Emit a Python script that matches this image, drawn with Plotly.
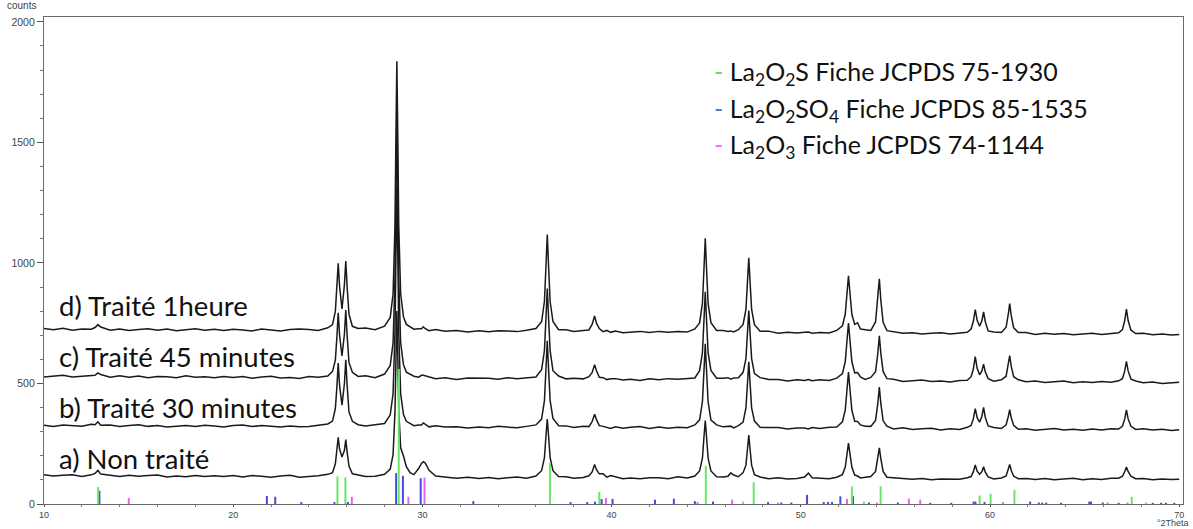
import plotly.graph_objects as go

# ---------------- data ----------------
two_theta = [
    10.0, 10.5, 11.0, 11.5, 12.0, 12.5, 12.7, 12.85, 13.0, 13.5,
    14.0, 14.5, 15.0, 15.5, 16.0, 16.5, 17.0, 17.5, 18.0, 18.5,
    19.0, 19.5, 20.0, 20.5, 21.0, 21.5, 22.0, 22.5, 23.0, 23.5,
    24.0, 24.5, 25.0, 25.25, 25.4, 25.48, 25.55, 25.62, 25.75, 25.88,
    25.95, 26.02, 26.12, 26.3, 26.6, 27.0, 27.5, 28.0, 28.3, 28.45,
    28.55, 28.6, 28.65, 28.7, 28.75, 28.85, 29.0, 29.15, 29.35, 29.55,
    29.8, 29.95, 30.05, 30.15, 30.35, 30.7, 31.2, 31.8, 32.4, 33.0,
    33.5, 34.0, 34.5, 35.0, 35.5, 36.0, 36.3, 36.45, 36.53, 36.6,
    36.67, 36.75, 36.9, 37.2, 37.6, 38.0, 38.5, 38.8, 38.97, 39.1,
    39.2, 39.35, 39.55, 39.75, 39.95, 40.2, 40.6, 41.0, 41.5, 42.0,
    42.5, 43.0, 43.5, 44.0, 44.4, 44.65, 44.8, 44.88, 44.95, 45.02,
    45.1, 45.25, 45.55, 45.9, 46.15, 46.3, 46.45, 46.7, 46.95, 47.1,
    47.18, 47.25, 47.32, 47.4, 47.55, 47.85, 48.3, 48.8, 49.3, 49.8,
    50.2, 50.4, 50.6, 51.0, 51.5, 51.9, 52.2, 52.35, 52.44, 52.52,
    52.6, 52.7, 52.85, 53.0, 53.15, 53.4, 53.7, 53.95, 54.07, 54.15,
    54.23, 54.35, 54.55, 54.9, 55.4, 55.9, 56.4, 56.9, 57.4, 57.9,
    58.4, 58.8, 59.0, 59.12, 59.22, 59.32, 59.45, 59.57, 59.66, 59.75,
    59.9, 60.2, 60.6, 60.85, 60.97, 61.04, 61.12, 61.25, 61.5, 61.9,
    62.4, 62.9, 63.4, 63.9, 64.4, 64.9, 65.4, 65.9, 66.4, 66.8,
    67.0, 67.12, 67.21, 67.3, 67.45, 67.7, 68.1, 68.6, 69.1, 69.6,
    70.0,
]

counts_a = [
    121, 116, 119, 121, 114, 121, 127, 139, 124, 120,
    114, 119, 115, 118, 120, 112, 116, 113, 118, 114,
    117, 114, 118, 112, 118, 115, 111, 116, 119, 111,
    113, 117, 123, 130, 167, 223, 277, 229, 195, 223,
    267, 217, 157, 125, 119, 114, 115, 123, 145, 205,
    381, 608, 800, 612, 390, 233, 199, 155, 130, 122,
    147, 168, 175, 170, 140, 116, 111, 107, 111, 106,
    110, 105, 109, 112, 107, 116, 138, 192, 281, 352,
    281, 192, 138, 114, 113, 107, 110, 117, 133, 164,
    142, 125, 125, 111, 118, 113, 105, 108, 105, 109,
    109, 105, 113, 108, 116, 137, 190, 276, 346, 276,
    190, 137, 113, 112, 115, 129, 120, 113, 130, 161,
    226, 286, 226, 161, 122, 112, 105, 109, 104, 106,
    112, 128, 109, 108, 105, 111, 122, 153, 207, 253,
    207, 152, 120, 116, 108, 111, 114, 135, 188, 233,
    188, 135, 111, 109, 108, 103, 106, 101, 104, 105,
    103, 109, 114, 134, 162, 136, 123, 134, 155, 132,
    112, 104, 108, 116, 144, 164, 140, 115, 105, 106,
    102, 106, 101, 104, 107, 101, 105, 102, 107, 107,
    115, 135, 153, 135, 115, 105, 106, 101, 104, 102,
    103,
]

counts_b = [
    327, 321, 328, 326, 323, 331, 329, 341, 327, 328,
    321, 326, 329, 322, 326, 319, 324, 326, 321, 327,
    324, 319, 326, 328, 321, 326, 323, 319, 324, 320,
    321, 327, 332, 344, 396, 486, 585, 494, 410, 501,
    598, 494, 382, 343, 329, 324, 328, 334, 370, 458,
    710, 1039, 1320, 1039, 710, 458, 371, 343, 335, 325,
    328, 328, 336, 331, 320, 325, 319, 320, 315, 319,
    316, 322, 319, 316, 322, 328, 352, 429, 558, 677,
    558, 429, 355, 325, 324, 317, 322, 321, 341, 372,
    350, 325, 322, 319, 313, 320, 314, 318, 321, 313,
    319, 314, 318, 316, 328, 349, 424, 549, 665, 549,
    424, 348, 328, 320, 322, 323, 316, 325, 340, 399,
    499, 590, 499, 399, 344, 318, 317, 317, 311, 315,
    315, 311, 317, 313, 318, 319, 341, 390, 474, 547,
    474, 388, 343, 342, 328, 323, 322, 347, 417, 485,
    417, 345, 323, 311, 316, 309, 312, 314, 307, 312,
    309, 318, 326, 354, 396, 358, 339, 364, 401, 360,
    324, 317, 313, 328, 364, 391, 359, 326, 310, 312,
    306, 311, 313, 307, 310, 306, 311, 307, 312, 311,
    323, 353, 390, 353, 322, 309, 312, 307, 310, 305,
    308,
]

counts_c = [
    527, 532, 534, 527, 530, 534, 534, 544, 537, 526,
    532, 526, 531, 524, 529, 528, 524, 532, 526, 528,
    524, 529, 525, 529, 522, 527, 530, 523, 525, 521,
    529, 526, 531, 550, 597, 692, 793, 702, 614, 706,
    805, 701, 586, 546, 529, 532, 524, 539, 575, 668,
    935, 1284, 1582, 1284, 935, 668, 578, 547, 537, 530,
    526, 534, 534, 532, 529, 520, 524, 516, 523, 521,
    522, 517, 524, 520, 524, 527, 557, 636, 770, 894,
    770, 636, 553, 531, 519, 522, 519, 528, 545, 578,
    553, 526, 524, 516, 519, 520, 514, 517, 512, 519,
    515, 520, 517, 521, 523, 553, 628, 759, 880, 759,
    628, 554, 522, 522, 524, 518, 523, 524, 546, 603,
    707, 802, 707, 603, 541, 524, 516, 516, 510, 515,
    512, 516, 511, 515, 512, 522, 541, 591, 677, 751,
    677, 590, 544, 545, 527, 517, 525, 549, 625, 698,
    625, 550, 520, 517, 508, 512, 514, 508, 510, 506,
    512, 513, 528, 560, 611, 563, 536, 552, 580, 548,
    520, 509, 515, 530, 579, 615, 572, 528, 515, 507,
    510, 504, 507, 510, 503, 507, 504, 508, 505, 511,
    520, 552, 592, 552, 518, 510, 503, 506, 500, 504,
    505,
]

counts_d = [
    728, 723, 729, 721, 726, 725, 732, 744, 734, 721,
    726, 720, 724, 727, 721, 726, 719, 724, 727, 721,
    725, 720, 725, 722, 718, 726, 723, 718, 724, 726,
    724, 720, 731, 744, 800, 894, 998, 905, 809, 911,
    1008, 903, 787, 737, 728, 730, 723, 738, 774, 872,
    1154, 1522, 1836, 1522, 1154, 872, 776, 745, 735, 725,
    727, 727, 735, 727, 719, 724, 717, 720, 713, 719,
    714, 719, 718, 715, 721, 728, 756, 841, 985, 1118,
    984, 840, 757, 723, 723, 716, 720, 722, 745, 780,
    750, 728, 715, 720, 712, 717, 710, 714, 716, 711,
    716, 712, 715, 713, 726, 751, 833, 973, 1102, 973,
    832, 752, 720, 720, 716, 718, 714, 723, 745, 807,
    919, 1021, 919, 807, 744, 717, 717, 708, 712, 709,
    712, 713, 708, 711, 709, 720, 739, 788, 873, 947,
    873, 786, 745, 752, 726, 722, 720, 755, 846, 934,
    845, 754, 719, 715, 708, 710, 705, 708, 710, 705,
    709, 712, 726, 758, 806, 762, 737, 760, 797, 756,
    718, 713, 711, 733, 790, 831, 782, 731, 711, 711,
    703, 708, 704, 707, 702, 706, 708, 703, 708, 710,
    723, 761, 808, 761, 721, 707, 708, 702, 705, 701,
    703,
]

sample_labels = ["a) Non traité", "b) Traité 30 minutes", "c) Traité 45 minutes", "d) Traité 1heure"]
sample_label_y = [190, 401, 612, 822]

# reference patterns (JCPDS sticks)
la2o2s_pos = [12.86, 25.51, 25.93, 28.75, 36.74, 39.35, 44.98, 46.95, 47.51, 52.70,
              53.34, 54.22, 59.45, 60.03, 61.29, 67.49, 68.25]
la2o2s_int = [70, 115, 110, 560, 172, 50, 158, 10, 90, 73,
              10, 73, 35, 43, 59, 30, 6]

la2o2so4_pos = [12.93, 21.78, 22.22, 23.6, 25.35, 26.06, 28.61, 28.97, 29.91, 32.69,
                37.83, 38.71, 39.12, 39.47, 40.05, 42.29, 43.29, 44.4, 45.36, 48.27,
                48.97, 49.5, 50.33, 51.21, 51.44, 51.65, 52.09, 52.76, 53.6, 55.13,
                56.84, 57.95, 59.13, 59.23, 59.71, 62.12, 62.58, 62.76, 62.97, 63.76,
                65.25, 65.34, 65.96, 66.8, 68.6, 69.04, 69.3, 69.74]
la2o2so4_int = [55, 33, 30, 8, 8, 8, 128, 117, 107, 12,
                8, 8, 10, 21, 21, 18, 22, 12, 10, 8,
                6, 6, 38, 8, 8, 8, 32, 32, 6, 6,
                5, 5, 10, 10, 8, 10, 6, 6, 6, 5,
                10, 10, 6, 5, 5, 5, 5, 5]

la2o3_pos = [14.48, 26.27, 29.26, 30.11, 39.7, 44.54, 46.37, 48.8, 52.44, 54.02,
             55.71, 56.31, 60.68, 66.22, 67.27]
la2o3_int = [25, 30, 30, 110, 25, 8, 18, 6, 21, 6,
             22, 18, 8, 6, 6]

legend_labels = [
    "La<sub>2</sub>O<sub>2</sub>S Fiche JCPDS 75-1930",
    "La<sub>2</sub>O<sub>2</sub>SO<sub>4</sub> Fiche JCPDS 85-1535",
    "La<sub>2</sub>O<sub>3</sub> Fiche JCPDS 74-1144",
]
legend_dash_colors = ["#6cd84c", "#4f81bd", "#ff66ff"]
stick_colors = ["#66e866", "#4848e8", "#f060f0"]

for arr in (counts_a, counts_b, counts_c, counts_d):
    assert len(arr) == len(two_theta), len(arr)
assert len(la2o2s_pos) == len(la2o2s_int)
assert len(la2o2so4_pos) == len(la2o2so4_int)
assert len(la2o3_pos) == len(la2o3_int)

# ---------------- figure ----------------
fig = go.Figure()

for ys in (counts_a, counts_b, counts_c, counts_d):
    fig.add_trace(go.Scatter(
        x=two_theta, y=ys, mode="lines",
        line=dict(color="#1a1a1a", width=1.5),
        hoverinfo="skip", showlegend=False))


def stick_xy(pos, inten):
    xs, ys = [], []
    for p, h in zip(pos, inten):
        xs += [p, p, None]
        ys += [0, h, None]
    return xs, ys


for (pos, inten), col in zip(
        [(la2o2so4_pos, la2o2so4_int), (la2o3_pos, la2o3_int), (la2o2s_pos, la2o2s_int)],
        [stick_colors[1], stick_colors[2], stick_colors[0]]):
    sx, sy = stick_xy(pos, inten)
    fig.add_trace(go.Scatter(x=sx, y=sy, mode="lines",
                             line=dict(color=col, width=2),
                             hoverinfo="skip", showlegend=False))

annotations = []
for lab, yv in zip(sample_labels, sample_label_y):
    annotations.append(dict(x=10.68, y=yv, xref="x", yref="y", text=lab,
                            showarrow=False, xanchor="left", yanchor="middle",
                            font=dict(family="Lato", size=27.5, color="#111")))

legend_y = [1789, 1636, 1483]
for lab, col, yv in zip(legend_labels, legend_dash_colors, legend_y):
    annotations.append(dict(x=45.3, y=yv, xref="x", yref="y",
                            text="<span style='color:%s'>-</span> %s" % (col, lab),
                            showarrow=False, xanchor="left", yanchor="middle",
                            font=dict(family="Lato", size=25, color="#111")))

annotations.append(dict(x=-0.034, y=1.024, xref="paper", yref="paper", text="counts",
                        showarrow=False, xanchor="left", yanchor="middle",
                        font=dict(family="Liberation Sans", size=10, color="#444")))
annotations.append(dict(x=1.006, y=-0.0385, xref="paper", yref="paper", text="°2Theta",
                        showarrow=False, xanchor="right", yanchor="middle", borderpad=0,
                        font=dict(family="Liberation Sans", size=9, color="#444")))

fig.update_layout(
    width=1193, height=529,
    margin=dict(l=44, r=9, t=17, b=23),
    plot_bgcolor="white", paper_bgcolor="white",
    showlegend=False,
    annotations=annotations,
)

fig.update_xaxes(
    range=[10, 70.2], tick0=0, dtick=10,
    ticks="outside", ticklen=2, tickcolor="#555", tickwidth=1,
    minor=dict(dtick=2, ticks="outside", ticklen=2, tickcolor="#777"),
    showline=True, linecolor="#6a6a6a", linewidth=1.2, mirror=True,
    showgrid=False, zeroline=False,
    tickfont=dict(family="Liberation Sans", size=9, color="#444"),
)
fig.update_yaxes(
    range=[0, 2020], tick0=0, dtick=500,
    ticks="outside", ticklen=6, tickcolor="#555", tickwidth=1,
    minor=dict(dtick=100, ticks="outside", ticklen=3, tickcolor="#777"),
    showline=True, linecolor="#6a6a6a", linewidth=1.2, mirror=True,
    showgrid=False, zeroline=False,
    tickfont=dict(family="Liberation Sans", size=10.5, color="#444"),
)

fig.write_html("out.html", config={"displayModeBar": False},
               post_script="document.body.style.margin='0';")
